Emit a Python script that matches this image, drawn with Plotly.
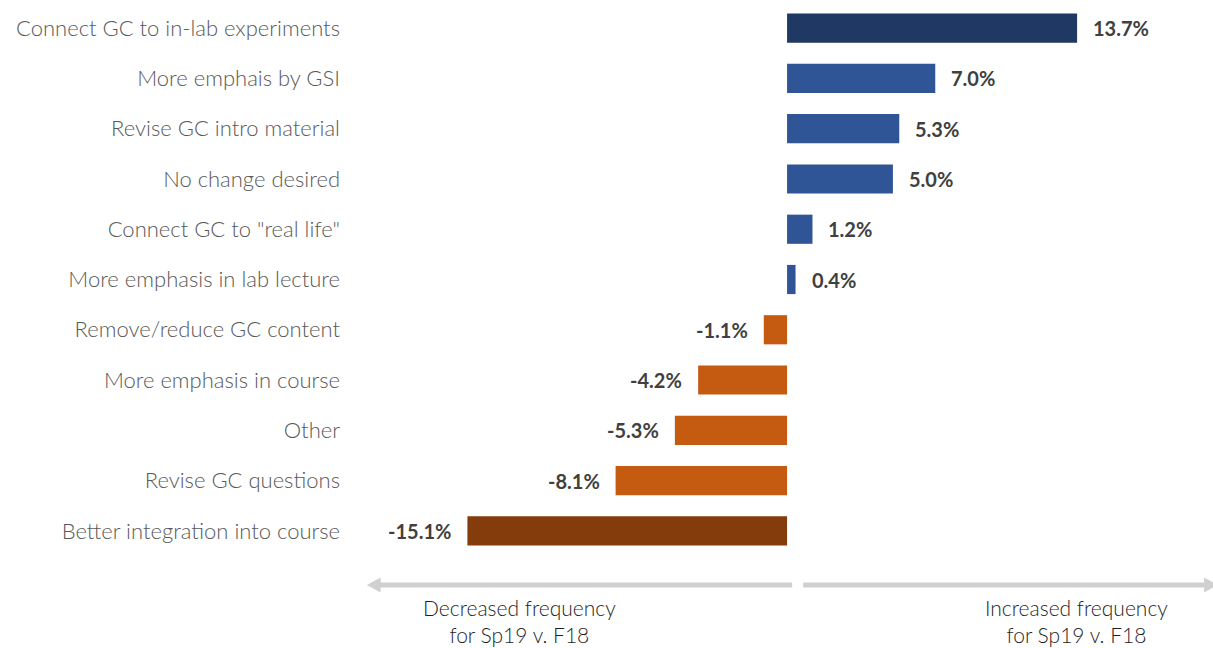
import plotly.graph_objects as go

categories = [
    "Connect GC to in-lab experiments",
    "More emphais by GSI",
    "Revise GC intro material",
    "No change desired",
    "Connect GC to \"real life\"",
    "More emphasis in lab lecture",
    "Remove/reduce GC content",
    "More emphasis in course",
    "Other",
    "Revise GC questions",
    "Better integration into course",
]
values = [13.7, 7.0, 5.3, 5.0, 1.2, 0.4, -1.1, -4.2, -5.3, -8.1, -15.1]
colors = ["#203864", "#2F5597", "#2F5597", "#2F5597", "#2F5597", "#2F5597",
          "#C55A11", "#C55A11", "#C55A11", "#C55A11", "#843C0C"]
labels = [f"{v:.1f}%" for v in values]

XMIN, XMAX = -20.41, 20.12

fig = go.Figure()
fig.add_trace(go.Bar(
    y=categories, x=values, orientation="h",
    marker=dict(color=colors, line=dict(width=0)),
    hoverinfo="skip",
))

for c, v, lab in zip(categories, values, labels):
    fig.add_annotation(
        x=v, y=c, xref="x", yref="y", text=f"<b>{lab}</b>", showarrow=False,
        xanchor="left" if v >= 0 else "right",
        xshift=14 if v >= 0 else -14,
        font=dict(family="Lato", size=20, color="#404040"),
    )

# bottom arrows
ya = -0.0524
gray = "#D0D0D0"
fig.add_shape(type="line", xref="x", yref="paper", x0=0.24, x1=-19.3, y0=ya, y1=ya,
              line=dict(color=gray, width=5))
fig.add_shape(type="line", xref="x", yref="paper", x0=0.76, x1=19.7, y0=ya, y1=ya,
              line=dict(color=gray, width=5))
hy = 0.0135
fig.add_shape(type="path", xref="x", yref="paper",
              path=f"M -19.85 {ya} L -19.2 {ya+hy} L -19.2 {ya-hy} Z",
              fillcolor=gray, line=dict(width=0))
fig.add_shape(type="path", xref="x", yref="paper",
              path=f"M 20.35 {ya} L 19.7 {ya+hy} L 19.7 {ya-hy} Z",
              fillcolor=gray, line=dict(width=0))

ybot = -92 / 553
fig.add_annotation(x=-12.62, y=ybot, xref="x", yref="paper", yanchor="bottom",
                   text="Decreased frequency<br>for Sp19 v. F18", showarrow=False,
                   font=dict(family="Lato", size=21, color="#1f1f1f", weight=300),
                   align="center", borderpad=0)
fig.add_annotation(x=13.68, y=ybot, xref="x", yref="paper", yanchor="bottom",
                   text="Increased frequency<br>for Sp19 v. F18", showarrow=False,
                   font=dict(family="Lato", size=21, color="#1f1f1f", weight=300),
                   align="center", borderpad=0)

fig.update_layout(
    width=1213, height=648,
    margin=dict(l=355, r=0, t=3, b=92),
    paper_bgcolor="white", plot_bgcolor="white",
    showlegend=False,
    bargap=0.42,
    xaxis=dict(range=[XMIN, XMAX], visible=False, fixedrange=True),
    yaxis=dict(
        autorange=False, range=[10.5, -0.5], categoryorder="array", categoryarray=categories,
        showgrid=False, zeroline=False, showline=False, ticks="",
        ticklabelstandoff=14, automargin=False, fixedrange=True,
        tickfont=dict(family="Lato", size=22, color="#595959", weight=300),
    ),
)

fig.write_html("out.html", config={"displayModeBar": False},
               post_script="document.body.style.margin='0';document.body.style.overflow='hidden';")
